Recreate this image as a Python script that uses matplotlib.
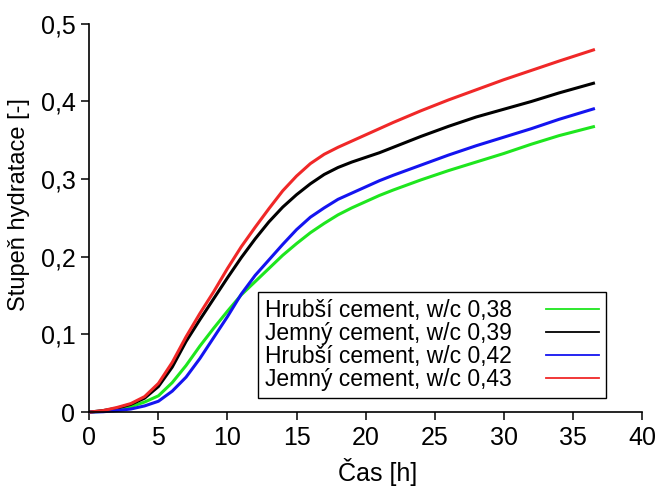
import matplotlib
matplotlib.use("Agg")
import matplotlib.pyplot as plt
from matplotlib.lines import Line2D
from matplotlib.ticker import FuncFormatter

plt.rcParams['font.family'] = ['Liberation Sans', 'DejaVu Sans']

time_h = [0, 1, 2, 3, 4, 5, 6, 7, 8, 9, 10, 11, 12, 13, 14, 15, 16, 17, 18,
          19, 20, 21, 22, 24, 26, 28, 30, 32, 34, 36.6]

hrubsi_038 = [0, 0.001, 0.003, 0.007, 0.013, 0.021, 0.038, 0.060, 0.085, 0.108,
              0.130, 0.151, 0.168, 0.185, 0.202, 0.217, 0.231, 0.243, 0.254,
              0.263, 0.271, 0.279, 0.286, 0.299, 0.311, 0.322, 0.333, 0.345,
              0.356, 0.368]
jemny_039 = [0, 0.002, 0.005, 0.010, 0.018, 0.033, 0.058, 0.091, 0.119, 0.146,
             0.173, 0.199, 0.223, 0.245, 0.264, 0.280, 0.294, 0.306, 0.315,
             0.322, 0.328, 0.334, 0.341, 0.355, 0.368, 0.380, 0.390, 0.400,
             0.411, 0.424]
hrubsi_042 = [0, 0.0005, 0.002, 0.004, 0.008, 0.014, 0.027, 0.045, 0.069, 0.096,
              0.123, 0.152, 0.176, 0.196, 0.216, 0.235, 0.251, 0.263, 0.274,
              0.282, 0.290, 0.298, 0.305, 0.318, 0.331, 0.343, 0.354, 0.365,
              0.377, 0.391]
jemny_043 = [0, 0.002, 0.006, 0.011, 0.020, 0.037, 0.064, 0.097, 0.127, 0.155,
             0.185, 0.213, 0.238, 0.262, 0.285, 0.304, 0.320, 0.332, 0.341,
             0.349, 0.357, 0.365, 0.373, 0.388, 0.402, 0.415, 0.428, 0.440,
             0.452, 0.467]

labels = ["Hrubší cement, w/c 0,38", "Jemný cement, w/c 0,39",
          "Hrubší cement, w/c 0,42", "Jemný cement, w/c 0,43"]
colors = ["#1ee61e", "#000000", "#1414f0", "#f02828"]
series = [hrubsi_038, jemny_039, hrubsi_042, jemny_043]

x_ticks = [0, 5, 10, 15, 20, 25, 30, 35, 40]
y_ticks = [0, 0.1, 0.2, 0.3, 0.4, 0.5]

fig = plt.figure(figsize=(6.57, 4.86), dpi=100)
ax = fig.add_axes([0.136, 0.152, 0.841, 0.799])

for ys, c in zip(series, colors):
    ax.plot(time_h, ys, color=c, lw=2.2, clip_on=False, solid_capstyle='butt',
            solid_joinstyle='round')

ax.set_xlim(0, 40)
ax.set_ylim(0, 0.5)
ax.set_xticks(x_ticks)
ax.set_yticks(y_ticks)

def yfmt(v, pos):
    if abs(v) < 1e-9:
        return "0"
    return ("%.1f" % v).replace(".", ",")

ax.yaxis.set_major_formatter(FuncFormatter(yfmt))
ax.xaxis.set_major_formatter(FuncFormatter(lambda v, p: "%d" % v))

for s in ['top', 'right']:
    ax.spines[s].set_visible(False)
for s in ['left', 'bottom']:
    ax.spines[s].set_linewidth(1.2)

ax.tick_params(direction='out', length=6, width=1.1, labelsize=18, pad=4)

ax.set_xlabel("Čas [h]", fontsize=18)
ax.xaxis.set_label_coords(0.522, -0.117)
ax.set_ylabel("Stupeň hydratace [-]", fontsize=17)
ax.yaxis.set_label_coords(-0.108, 0.534)

handles = [Line2D([], [], color=c, lw=1.3) for c in colors]
leg = ax.legend(handles, labels, loc='lower left', bbox_to_anchor=(0.305, 0.036),
                borderaxespad=0, markerfirst=False, fontsize=16.5,
                handlelength=2.3, handletextpad=1.5, labelspacing=0.0,
                borderpad=0.3, fancybox=False, framealpha=1, edgecolor='black')
leg.get_frame().set_linewidth(1.0)

fig.savefig("out.png", dpi=100)
